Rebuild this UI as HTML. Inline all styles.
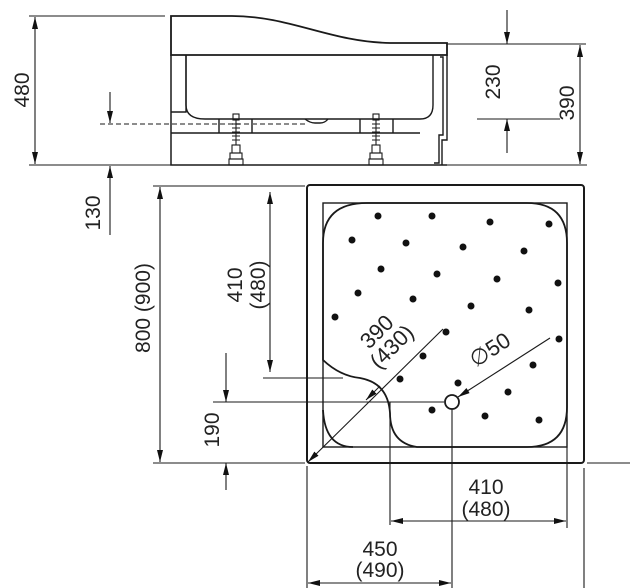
<!DOCTYPE html>
<html><head><meta charset="utf-8"><style>
html,body{margin:0;padding:0;background:#fff;}
svg{display:block;}
text{font-family:"Liberation Sans",sans-serif;font-size:21px;fill:#222;}
</style></head><body>
<svg width="638" height="588" viewBox="0 0 638 588" xmlns="http://www.w3.org/2000/svg">
<defs>
<marker id="a" viewBox="0 0 12 6" refX="12" refY="3" markerWidth="12" markerHeight="6" orient="auto-start-reverse" markerUnits="userSpaceOnUse">
<path d="M0,0 L12,3 L0,6 Z" fill="#111"/></marker>
</defs>
<g fill="none" stroke="#1a1a1a" stroke-width="1.4">
<!-- side view -->
<path d="M171,16 L232,16 C290,16 330,42 390,43 L447,43 L447,55 L171,55 Z" stroke-width="1.8"/>
<path d="M171,55 L171,165 L447,165" stroke-width="1.5"/>
<path d="M186,55 L186,112 L171,112"/>
<path d="M186,55 L186,105 Q186,119 205,119 L420,119 Q433,119 433,105 L433,55"/>
<path d="M305,119 Q310,123 315,123 L320,123 Q325,123 328,119"/>
<path d="M171,133 L420,133"/>
<path d="M219,119 L219,133 M252,119 L252,133 M360,119 L360,133 M393,119 L393,133"/>
<path d="M440,57 L443,57 L443,135 L439,135 L439,163 L434,163"/>
<path d="M447,55 L447,140 L442,140 L442,165"/>
<path d="M100,124 L308,124" stroke="#666" stroke-dasharray="5,3"/>
<g stroke-width="1.1">
<rect x="233" y="114" width="6" height="6"/><path d="M236,120 L236,145 M232,124 h8 M232,128 h8 M232,132 h8 M232,136 h8 M232,140 h8"/>
<rect x="232" y="145" width="8" height="8"/><rect x="230" y="153" width="12" height="6"/><rect x="229" y="159" width="14" height="6"/>
<rect x="373" y="114" width="6" height="6"/><path d="M376,120 L376,145 M372,124 h8 M372,128 h8 M372,132 h8 M372,136 h8 M372,140 h8"/>
<rect x="372" y="145" width="8" height="8"/><rect x="370" y="153" width="12" height="6"/><rect x="369" y="159" width="14" height="6"/>
</g>
<!-- side dims -->
<g stroke-width="1.1">
<path d="M29,16 L165,16 M29,165 L171,165"/>
<path d="M35,17 L35,164" marker-start="url(#a)" marker-end="url(#a)"/>
<path d="M110,92 L110,123" marker-end="url(#a)"/>
<path d="M110,235 L110,166" marker-end="url(#a)"/>
<path d="M447,44 L586,44 M477,119 L560,119 M447,165 L587,165"/>
<path d="M507,10 L507,44" marker-end="url(#a)"/>
<path d="M507,153 L507,119" marker-end="url(#a)"/>
<path d="M580,45 L580,164" marker-start="url(#a)" marker-end="url(#a)"/>
</g>
<!-- plan -->
<rect x="307" y="185" width="277" height="278" rx="3" stroke-width="2"/>
<rect x="323" y="203" width="244" height="244" stroke-width="1.4"/>
<path d="M323,243 Q323,203 367,203 L527,203 Q567,203 567,243 L567,407 Q567,447 527,447 L417,447 Q390,443 390,413 Q388,383 360,378 Q340,376 323,360 Z" stroke-width="1.8"/>
<path d="M323,410 Q325,447 353,447" stroke-width="1.8"/>
<circle cx="452" cy="402" r="7" stroke-width="1.8"/>
<!-- plan dims -->
<g stroke-width="1.1">
<path d="M153,186 L305,186 M153,463 L305,463"/>
<path d="M160,187 L160,462" marker-start="url(#a)" marker-end="url(#a)"/>
<path d="M270,192 L270,372" marker-start="url(#a)" marker-end="url(#a)"/>
<path d="M263,378 L343,378 M213,402 L444,402"/>
<path d="M226,353 L226,402" marker-end="url(#a)"/>
<path d="M226,490 L226,463" marker-end="url(#a)"/>
<path d="M390,402 L390,525 M567,447 L567,528 M452,409 L452,588 M307,466 L307,588 M584,468 L584,588 M587,463 L630,463"/>
<path d="M391,521 L566,521" marker-start="url(#a)" marker-end="url(#a)"/>
<path d="M308,583 L451,583" marker-start="url(#a)" marker-end="url(#a)"/>
<path d="M443,329 L308,462" marker-end="url(#a)"/>
<path d="M380,386 L366,400" marker-end="url(#a)"/>
<path d="M550,338 L458,397" marker-end="url(#a)"/>
</g>
</g>
<g fill="#111">
<circle cx="378" cy="216" r="3.5"/><circle cx="432" cy="216" r="3.5"/><circle cx="490" cy="222" r="3.5"/><circle cx="549" cy="224" r="3.5"/>
<circle cx="352" cy="240" r="3.5"/><circle cx="406" cy="243" r="3.5"/><circle cx="463" cy="247" r="3.5"/><circle cx="524" cy="251" r="3.5"/>
<circle cx="381" cy="269" r="3.5"/><circle cx="437" cy="274" r="3.5"/><circle cx="497" cy="279" r="3.5"/><circle cx="558" cy="283" r="3.5"/>
<circle cx="358" cy="293" r="3.5"/><circle cx="413" cy="299" r="3.5"/><circle cx="471" cy="306" r="3.5"/><circle cx="529" cy="310" r="3.5"/>
<circle cx="335" cy="317" r="3.5"/><circle cx="446" cy="332" r="3.5"/><circle cx="559" cy="339" r="3.5"/><circle cx="423" cy="356" r="3.5"/>
<circle cx="533" cy="365" r="3.5"/><circle cx="400" cy="379" r="3.5"/><circle cx="458" cy="383" r="3.5"/><circle cx="508" cy="392" r="3.5"/>
<circle cx="432" cy="410" r="3.5"/><circle cx="485" cy="416" r="3.5"/><circle cx="539" cy="420" r="3.5"/>
</g>
<g text-anchor="middle">
<text transform="translate(29,90) rotate(-90)">480</text>
<text transform="translate(100,213) rotate(-90)">130</text>
<text transform="translate(500,82) rotate(-90)">230</text>
<text transform="translate(574,103) rotate(-90)">390</text>
<text transform="translate(150,308) rotate(-90)">800 (900)</text>
<text transform="translate(242,285) rotate(-90)">410</text>
<text transform="translate(265,285) rotate(-90)">(480)</text>
<text transform="translate(219,430) rotate(-90)">190</text>
<text x="486" y="494">410</text>
<text x="486" y="516">(480)</text>
<text x="380" y="556">450</text>
<text x="380" y="577">(490)</text>
<text transform="translate(382,337) rotate(-45)" style="font-size:22px">390</text>
<text transform="translate(397,352) rotate(-45)" style="font-size:22px">(430)</text>
<text transform="translate(494,356) rotate(-33)" style="font-size:22px">∅50</text>
</g>
</svg>
</body></html>
